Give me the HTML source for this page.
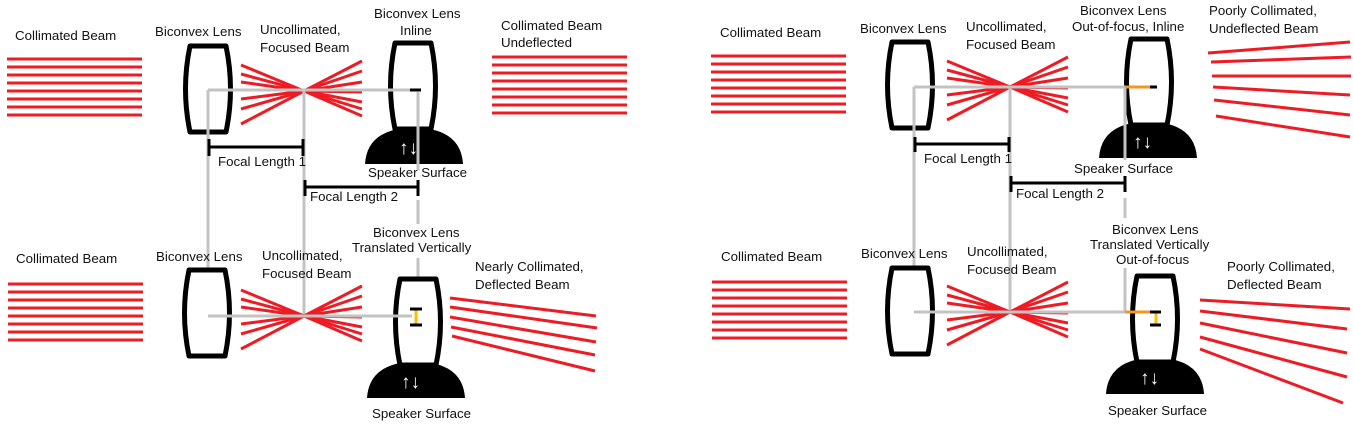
<!DOCTYPE html>
<html><head><meta charset="utf-8"><style>
html,body{margin:0;padding:0;background:#fff;}
svg{display:block;}
text{font-family:"Liberation Sans",sans-serif;font-size:13.3px;fill:#111;}
.r{stroke:#ed1c24;stroke-width:3;}
.g{stroke:#c3c3c3;stroke-width:3;fill:none;}
.k{stroke:#000;stroke-width:3;}
</style></head><body>
<svg width="1353" height="447" viewBox="0 0 1353 447" xmlns="http://www.w3.org/2000/svg">
<defs>
<g id="beam" class="r">
<line x1="0" y1="0" x2="135" y2="0"/><line x1="0" y1="8" x2="135" y2="8"/><line x1="0" y1="16" x2="135" y2="16"/><line x1="0" y1="24" x2="135" y2="24"/><line x1="0" y1="32" x2="135" y2="32"/><line x1="0" y1="40" x2="135" y2="40"/><line x1="0" y1="48" x2="135" y2="48"/><line x1="0" y1="56" x2="135" y2="56"/>
</g>
<path id="lens" d="M5,0 L41,0 Q50,43 41,86 L5,86 Q-4,43 5,0 Z" fill="#fff" stroke="#000" stroke-width="5" stroke-linejoin="round"/>
<g id="dome"><path d="M0,36 Q2,4 40,0 L58,0 Q96,4 98,36 Z" fill="#000"/><text x="34" y="26" style="fill:#fff;font-weight:bold;font-size:19px">↑↓</text></g>
<g id="xx" class="r">
<line x1="-63" y1="-26" x2="0" y2="0"/><line x1="-63" y1="-17" x2="0" y2="0"/><line x1="-63" y1="-9" x2="0" y2="0"/><line x1="-63" y1="8" x2="0" y2="0"/><line x1="-63" y1="18" x2="0" y2="0"/><line x1="-63" y1="33" x2="0" y2="0"/>
<line x1="58" y1="-30" x2="0" y2="0"/><line x1="58" y1="-20" x2="0" y2="0"/><line x1="58" y1="-9" x2="0" y2="0"/><line x1="58" y1="1" x2="0" y2="0"/><line x1="58" y1="11" x2="0" y2="0"/><line x1="58" y1="18" x2="0" y2="0"/><line x1="58" y1="25" x2="0" y2="0"/>
</g>
</defs>

<!-- LEFT PANEL -->
<text x="15" y="40">Collimated Beam</text>
<use href="#beam" x="7" y="59"/>
<text x="155" y="36">Biconvex Lens</text>
<text x="260" y="34">Uncollimated,</text>
<text x="260" y="52">Focused Beam</text>
<text x="374" y="18">Biconvex Lens</text>
<text x="400" y="35">Inline</text>
<text x="501" y="30">Collimated Beam</text>
<text x="501" y="47">Undeflected</text>
<use href="#beam" x="492" y="57"/>
<use href="#lens" x="185" y="46"/>
<use href="#dome" x="365" y="128"/>
<use href="#lens" x="390" y="43"/>
<use href="#xx" x="304" y="91"/>
<path class="g" d="M208,90 L410,90 M208,90 L208,315 M304,90 L304,315 M418,92 L418,170 M418,200 L418,224 M418,258 L418,315"/>
<line class="k" x1="410" y1="90" x2="421" y2="90"/>
<path class="k" fill="none" d="M208,147 L303,147 M209,139 L209,156 M303,139 L303,156 M304,187 L418,187 M305,180 L305,196 M418,180 L418,196"/>
<text x="218" y="166">Focal Length 1</text>
<text x="368" y="177">Speaker Surface</text>
<text x="310" y="201">Focal Length 2</text>

<text x="16" y="263">Collimated Beam</text>
<use href="#beam" x="8" y="284"/>
<text x="156" y="261">Biconvex Lens</text>
<text x="262" y="260">Uncollimated,</text>
<text x="262" y="278">Focused Beam</text>
<text x="373" y="237">Biconvex Lens</text>
<text x="352" y="252">Translated Vertically</text>
<text x="475" y="271">Nearly Collimated,</text>
<text x="475" y="289">Deflected Beam</text>
<use href="#lens" x="184" y="270"/>
<use href="#dome" x="367" y="362"/>
<use href="#lens" x="395" y="279"/>
<use href="#xx" x="304" y="316"/>
<path class="g" d="M208,316 L412,316"/>
<line x1="416" y1="309" x2="416" y2="325" stroke="#ffc000" stroke-width="3"/>
<path class="k" d="M410,309 L422,309 M410,325 L422,325"/>
<g class="r">
<line x1="450" y1="298" x2="596" y2="316"/><line x1="450" y1="307" x2="597" y2="328"/><line x1="450" y1="317" x2="596" y2="342"/><line x1="451" y1="327" x2="595" y2="355"/><line x1="452" y1="336" x2="595" y2="371"/>
</g>
<text x="372" y="418">Speaker Surface</text>

<!-- RIGHT PANEL -->
<text x="720" y="37">Collimated Beam</text>
<use href="#beam" x="711" y="56"/>
<text x="860" y="33">Biconvex Lens</text>
<text x="966" y="31">Uncollimated,</text>
<text x="966" y="49">Focused Beam</text>
<text x="1080" y="15">Biconvex Lens</text>
<text x="1072" y="31">Out-of-focus, Inline</text>
<text x="1209" y="15">Poorly Collimated,</text>
<text x="1209" y="33">Undeflected Beam</text>
<use href="#lens" x="887" y="42"/>
<use href="#dome" x="1099" y="122"/>
<use href="#lens" x="1126" y="39"/>
<use href="#xx" x="1010" y="87"/>
<path class="g" d="M914,87 L1125,87 M914,87 L914,313 M1010,87 L1010,313 M1125,87 L1125,160 M1125,198 L1125,218 M1125,268 L1125,313"/>
<line x1="1125" y1="87" x2="1150" y2="87" stroke="#f7941d" stroke-width="3"/>
<line class="k" x1="1150" y1="87" x2="1157" y2="87"/>
<path class="k" fill="none" d="M914,144 L1009,144 M915,137 L915,152 M1009,137 L1009,152 M1010,183 L1125,183 M1011,176 L1011,192 M1125,176 L1125,192"/>
<text x="924" y="163">Focal Length 1</text>
<text x="1074" y="173">Speaker Surface</text>
<text x="1016" y="198">Focal Length 2</text>
<g class="r">
<line x1="1208" y1="53" x2="1350" y2="42"/><line x1="1211" y1="62" x2="1351" y2="57"/><line x1="1212" y1="76" x2="1351" y2="76"/><line x1="1213" y1="87" x2="1350" y2="95"/><line x1="1214" y1="100" x2="1350" y2="115"/><line x1="1216" y1="116" x2="1350" y2="137"/>
</g>

<text x="721" y="261">Collimated Beam</text>
<use href="#beam" x="712" y="282"/>
<text x="861" y="258">Biconvex Lens</text>
<text x="967" y="256">Uncollimated,</text>
<text x="967" y="274">Focused Beam</text>
<text x="1112" y="234">Biconvex Lens</text>
<text x="1090" y="249">Translated Vertically</text>
<text x="1116" y="264">Out-of-focus</text>
<text x="1227" y="271">Poorly Collimated,</text>
<text x="1227" y="289">Deflected Beam</text>
<use href="#lens" x="887" y="268"/>
<use href="#dome" x="1106" y="358"/>
<use href="#lens" x="1132" y="276"/>
<use href="#xx" x="1010" y="312"/>
<path class="g" d="M914,312 L1125,312"/>
<line x1="1125" y1="312" x2="1157" y2="312" stroke="#f7941d" stroke-width="3"/>
<line x1="1156" y1="312" x2="1156" y2="325" stroke="#ffc000" stroke-width="3"/>
<path class="k" d="M1150,312 L1161,312 M1150,325 L1161,325"/>
<g class="r">
<line x1="1200" y1="300" x2="1350" y2="309"/><line x1="1200" y1="311" x2="1347" y2="329"/><line x1="1200" y1="323" x2="1347" y2="353"/><line x1="1200" y1="337" x2="1347" y2="377"/><line x1="1200" y1="349" x2="1343" y2="403"/>
</g>
<text x="1108" y="415">Speaker Surface</text>
</svg>
</body></html>
